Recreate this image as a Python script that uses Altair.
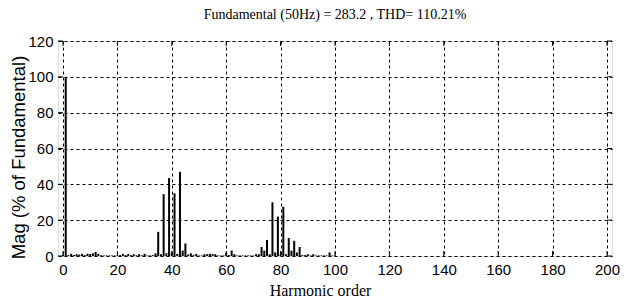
import altair as alt
import pandas as pd

harmonics = list(range(0, 101))
mags = [
    0.5, 100, 0.5, 1.2, 0.6, 1.0, 0.8, 1.2, 0.5, 1.3,      # 0-9
    1.1, 1.5, 2.3, 1.2, 0.4, 0.3, 0.3, 0.3, 0.3, 0.3,      # 10-19
    0.3, 0.5, 1.2, 0.5, 1.1, 0.4, 1.0, 0.4, 1.0, 0.4,      # 20-29
    1.2, 0.3, 0.3, 0.5, 1.5, 13.5, 1.0, 34.5, 1.5, 43.5,   # 30-39
    1.5, 35.0, 1.2, 47.0, 3.0, 7.0, 0.8, 1.5, 0.5, 1.2,    # 40-49
    0.3, 0.3, 1.0, 1.0, 1.2, 1.0, 1.0, 0.3, 0.3, 0.3,      # 50-59
    1.5, 0.5, 3.0, 1.0, 0.3, 0.3, 0.3, 0.3, 0.3, 0.3,      # 60-69
    0.3, 1.0, 1.0, 5.0, 3.0, 9.0, 1.0, 30.0, 2.0, 22.0,    # 70-79
    1.0, 27.5, 1.0, 10.0, 3.0, 8.5, 2.0, 5.0, 0.5, 0.5,    # 80-89
    1.0, 0.3, 1.0, 0.3, 0.3, 0.3, 0.3, 0.3, 2.0, 0.3,      # 90-99
    0.3,                                                    # 100
]
x_ticks = [0, 20, 40, 60, 80, 100, 120, 140, 160, 180, 200]
y_ticks = [0, 20, 40, 60, 80, 100, 120]

title_text = "Fundamental (50Hz) = 283.2 , THD= 110.21%"
x_title = "Harmonic order"
y_title = "Mag (% of Fundamental)"

W, H = 554, 215

df = pd.DataFrame({"h": harmonics, "m": mags})
xt = pd.DataFrame({"t": x_ticks})
yt = pd.DataFrame({"t": y_ticks})

xscale = alt.Scale(domain=[0, 200], nice=False, zero=False)
yscale = alt.Scale(domain=[0, 120], nice=False)

common = dict(grid=True, gridDash=[3, 3], gridColor="black", gridOpacity=1,
              gridWidth=1, tickSize=0, domain=False, labelOverlap=False,
              labelFont="Liberation Sans Narrow, Liberation Sans",
              labelFontSize=15, labelColor="black", titleFontWeight="normal",
              titleColor="black")
xaxis = alt.Axis(values=x_ticks, title=x_title, labelPadding=6,
                 titleFont="Liberation Serif", titleFontSize=16,
                 titlePadding=5, titleX=262, **common)
yaxis = alt.Axis(values=y_ticks, title=y_title, labelPadding=5,
                 titleFont="Liberation Sans", titleFontSize=18.5,
                 titleX=-30, titleY=116, **common)

bars = alt.Chart(df).mark_bar(color="black", size=2).encode(
    x=alt.X("h:Q", scale=xscale, axis=xaxis),
    y=alt.Y("m:Q", scale=yscale, axis=yaxis),
)

xtick_bottom = alt.Chart(xt).mark_rule(color="black", strokeWidth=1).encode(
    x=alt.X("t:Q", scale=xscale, axis=xaxis), y=alt.value(H), y2=alt.value(H - 5))
xtick_top = alt.Chart(xt).mark_rule(color="black", strokeWidth=1).encode(
    x=alt.X("t:Q", scale=xscale, axis=xaxis), y=alt.value(0), y2=alt.value(5))
ytick_left = alt.Chart(yt).mark_rule(color="black", strokeWidth=1).encode(
    y=alt.Y("t:Q", scale=yscale, axis=yaxis), x=alt.value(0), x2=alt.value(5))
ytick_right = alt.Chart(yt).mark_rule(color="black", strokeWidth=1).encode(
    y=alt.Y("t:Q", scale=yscale, axis=yaxis), x=alt.value(W), x2=alt.value(W - 5))

chart = alt.layer(bars, xtick_bottom, xtick_top, ytick_left, ytick_right).properties(
    width=W, height=H,
    title=alt.TitleParams(title_text, font="Liberation Serif", fontSize=14,
                          fontWeight="normal", color="black", anchor="middle",
                          offset=12),
    autosize=alt.AutoSizeParams(type="none"),
    padding={"left": 50, "top": 33, "right": 14, "bottom": 46},
).configure_view(stroke="black", strokeWidth=1).configure(background="white")

chart.save("out.html", embed_options={"renderer": "svg", "actions": False})
